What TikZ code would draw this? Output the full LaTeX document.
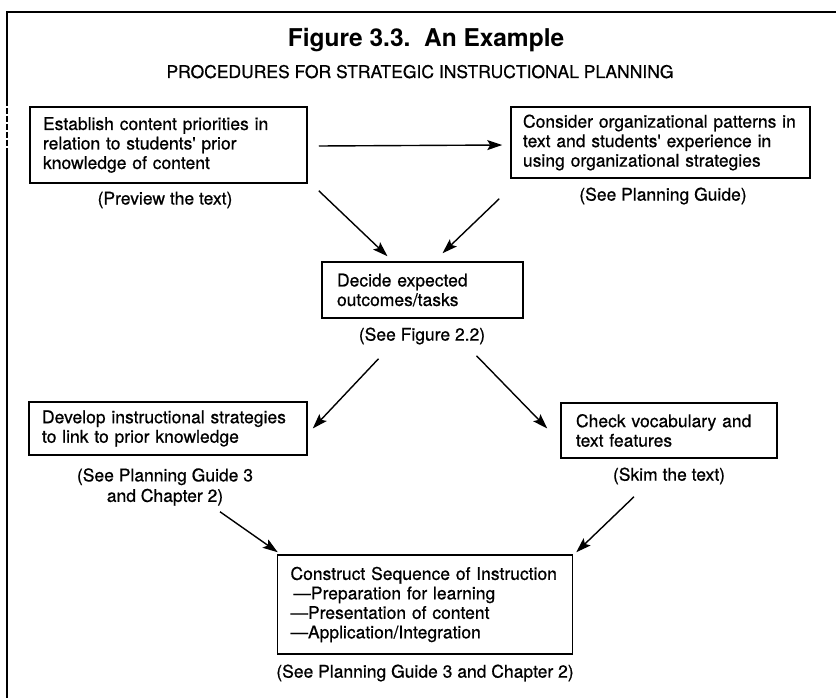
\documentclass[tikz,border=0pt]{standalone}
\usepackage{fontspec}
\setmainfont{TeX Gyre Heros}
\newfontfamily\heavyfont[FakeBold=0.7]{TeX Gyre Heros}
\usetikzlibrary{arrows.meta}
\newcommand\boxfont{\heavyfont\fontsize{17.5}{19.5}\selectfont}
\newcommand\capfont{\heavyfont\fontsize{17.5}{20.5}\selectfont}
\begin{document}
\begin{tikzpicture}[x=1pt,y=-1pt,
  stepbox/.style={draw, line width=1.5pt, align=left, inner xsep=13pt, inner ysep=0pt, font=\boxfont},
  lbl/.style={inner sep=0pt, align=center, font=\capfont},
  arr/.style={line width=1.4pt, -{Stealth[length=15pt,width=10pt,inset=3pt]}},
  frame/.style={line width=1.4pt}]
\useasboundingbox (0,0) rectangle (836,698);

% page frame: rule along the top and down the left edge, broken near the top
\draw[frame] (836,12) -- (7,12) -- (7,100);
\draw[frame, dash pattern=on 6pt off 2pt] (7,100) -- (7,150);
\draw[frame] (7,150) -- (7,698);

% headings
\node[anchor=base, inner sep=0pt, font=\fontsize{24.5}{27}\selectfont\bfseries] (title) at (426,47) {Figure 3.3.\ \ An Example};
\node[anchor=base, inner sep=0pt, font=\heavyfont\fontsize{17.5}{20}\selectfont] (subtitle) at (420,78) {PROCEDURES FOR STRATEGIC INSTRUCTIONAL PLANNING};

% steps
\node[stepbox, text width=251pt, minimum height=76pt] (prio) at (168.5,145)
  {Establish content priorities in\\relation to students' prior\\knowledge of content};
\node[stepbox, inner xsep=12pt, text width=275pt, minimum height=71pt] (cons) at (660.5,142.5)
  {Consider organizational patterns in\\text and students' experience in\\using organizational strategies};
\node[stepbox, inner xsep=15pt, text width=171pt, minimum height=56pt] (decide) at (422.5,290)
  {Decide expected\\outcomes/tasks};
\node[stepbox, text width=252pt, minimum height=53pt] (dev) at (168,428.5)
  {Develop instructional strategies\\to link to prior knowledge};
\node[stepbox, inner xsep=15pt, text width=186pt, minimum height=55pt] (check) at (669,430.5)
  {Check vocabulary and\\text features};
\node[stepbox, inner xsep=13pt, text width=269pt, minimum height=99pt] (seq) at (425,604.5)
  {Construct Sequence of Instruction\\
   \,\textemdash Preparation for learning\\
   \textemdash Presentation of content\\
   \textemdash Application/Integration};

% captions under the steps
\node[lbl] (l1) at (165,200) {(Preview the text)};
\node[lbl] (l2) at (663,196) {(See Planning Guide)};
\node[lbl] (l3) at (422,336) {(See Figure 2.2)};
\node[lbl] (l4) at (165,487) {(See Planning Guide 3\\and Chapter 2)};
\node[lbl] (l5) at (669,476) {(Skim the text)};
\node[lbl] (l6) at (425,673) {(See Planning Guide 3 and Chapter 2)};

% connectors
\draw[arr] ([xshift=11pt,yshift=-1pt]prio.east) -- ([xshift=-8pt]prio.east -| cons.west);
\draw[arr] ([xshift=11pt,yshift=-7pt]prio.south east) -- ([xshift=-35pt,yshift=5pt]decide.north);
\draw[arr] ([xshift=-11pt,yshift=-20pt]cons.south west) -- ([xshift=20pt,yshift=8pt]decide.north);
\draw[arr] ([xshift=-44pt,yshift=-40pt]decide.south) -- ([xshift=5pt]dev.east);
\draw[arr] ([xshift=54pt,yshift=-37pt]decide.south) -- ([xshift=-13pt,yshift=2pt]check.west);
\draw[arr] ([xshift=52pt,yshift=-56pt]dev.south) -- ([xshift=1pt,yshift=2pt]seq.north west);
\draw[arr] ([xshift=-35pt,yshift=-38pt]check.south) -- ([xshift=3pt,yshift=2pt]seq.north east);
\end{tikzpicture}
\end{document}
